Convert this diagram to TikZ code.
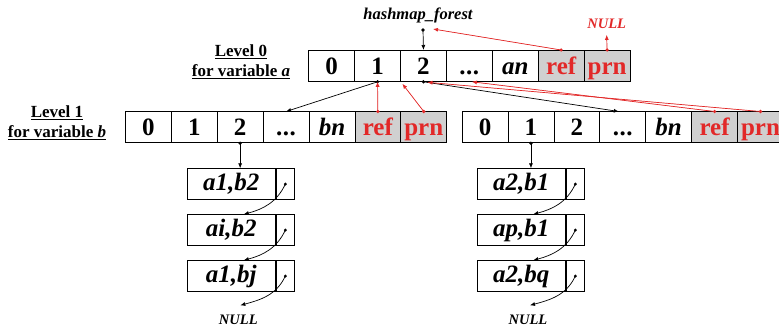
\documentclass[tikz,border=0pt]{standalone}
\usepackage{fontspec}
\setmainfont{Liberation Serif}
\usetikzlibrary{arrows.meta,calc}
\definecolor{ptrred}{RGB}{226,40,40}
\definecolor{cellgray}{RGB}{208,208,208}
\newcommand{\elide}{.\kern0.5pt.\kern0.5pt.}

\tikzset{
  cell/.style={draw, line width=0.8pt, minimum width=45.9pt, minimum height=31pt,
    inner sep=0pt, anchor=north west, text height=20pt, text depth=3pt,
    font=\fontsize{25}{25}\selectfont\bfseries},
  metacell/.style={cell, fill=cellgray, text=ptrred},
  lvllabel/.style={align=center, font=\fontsize{17}{20}\selectfont\bfseries},
  entry/.style={draw, line width=0.8pt, minimum width=88.3pt, minimum height=30.7pt,
    inner sep=0pt, anchor=north west, text height=18pt, text depth=5pt,
    font=\fontsize{25}{25}\selectfont\bfseries\itshape},
  nextptr/.style={draw, line width=0.8pt, minimum width=18.3pt, minimum height=30.7pt,
    inner sep=0pt, anchor=north west},
  nulltext/.style={inner sep=0pt, anchor=base, font=\fontsize{14.5}{14.5}\selectfont\bfseries\itshape},
  arr/.style={line width=0.7pt, -{Latex[length=5pt,width=4pt]}},
  redarr/.style={arr, draw=ptrred, fill=ptrred},
}

\begin{document}
\begin{tikzpicture}[x=1pt,y=-1pt]
\useasboundingbox (0,0) rectangle (779,328);

% ---------- level 0 table ----------
\node[cell] (A0) at (308.3,50) {0};
\node[cell] (A1) at (354.2,50) {1};
\node[cell] (A2) at (400.1,50) {2};
\node[cell] (A3) at (446.0,50) {\elide};
\node[cell] (A4) at (491.9,50) {\textit{an}};
\node[metacell] (A5) at (537.8,50) {ref};
\node[metacell] (A6) at (583.7,50) {prn};

% ---------- level 1 tables ----------
\node[cell] (B0) at (125.0,111.5) {0};
\node[cell] (B1) at (170.9,111.5) {1};
\node[cell] (B2) at (216.8,111.5) {2};
\node[cell] (B3) at (262.7,111.5) {\elide};
\node[cell] (B4) at (308.6,111.5) {\textit{bn}};
\node[metacell] (B5) at (354.5,111.5) {ref};
\node[metacell] (B6) at (400.4,111.5) {prn};

\node[cell] (C0) at (461.7,111.5) {0};
\node[cell] (C1) at (507.6,111.5) {1};
\node[cell] (C2) at (553.5,111.5) {2};
\node[cell] (C3) at (599.4,111.5) {\elide};
\node[cell] (C4) at (645.3,111.5) {\textit{bn}};
\node[metacell] (C5) at (691.2,111.5) {ref};
\node[metacell] (C6) at (737.1,111.5) {prn};

% ---------- labels ----------
\node[lvllabel] (lvl0) at (241,62) {\underline{Level 0}\\\underline{for variable \textit{a}}};
\node[lvllabel] (lvl1) at (57,123) {\underline{Level 1}\\\underline{for variable \textit{b}}};
\node[inner sep=0pt, font=\fontsize{16.5}{16.5}\selectfont\bfseries\itshape] (root) at (418,15) {hashmap\_forest};
\node[nulltext, text=ptrred] (nullT) at (606.7,28.5) {NULL};

% ---------- chained entries ----------
\node[entry] (la) at (186.7,168.3) {a1,b2};
\node[entry] (lb) at (186.7,214.3) {ai,b2};
\node[entry] (lc) at (186.7,260.3) {a1,bj};
\node[entry] (ra) at (476.7,168.3) {a2,b1};
\node[entry] (rb) at (476.7,214.3) {ap,b1};
\node[entry] (rc) at (476.7,260.3) {a2,bq};
\foreach \nm in {la,lb,lc,ra,rb,rc}{
  \node[nextptr] (\nm-p) at (\nm.north east) {};
  \fill (\nm-p.center) circle (1.6pt);
}
\node[nulltext] (nullL) at (238.3,325) {NULL};
\node[nulltext] (nullR) at (528,325) {NULL};

% ---------- root pointer ----------
\coordinate (rootdot) at (423,30);
\fill (rootdot) circle (1.8pt);
\draw[arr] (rootdot) -- (A2.north);

% ---------- parent / ref pointers of level 0 ----------
\fill[ptrred] (A5.north) circle (1.8pt);
\fill[ptrred] (A6.north) circle (1.8pt);
\draw[redarr] (A5.north) -- ($(rootdot)+(10,-1)$);
\draw[redarr] (A6.north) -- ($(nullT.south)+(0,6)$);

% ---------- level 0 -> level 1 ----------
\fill (A1.south) circle (1.8pt);
\fill (A2.south) circle (1.8pt);
\draw[arr] (A1.south) -- (B3.north);
\draw[arr] (A2.south) -- ($(C3.north)+(-4,0)$);

% ---------- level 1 back pointers ----------
\foreach \n in {B5,B6,C5,C6}{\fill[ptrred] (\n.north) circle (1.8pt);}
\draw[redarr] (B5.north) -- (A1.south);
\draw[redarr] (B6.north) -- ($(A1.south east)+(1.5,2)$);
\draw[redarr] (C5.north) -- ($(A3.south)+(2.5,0)$);
\draw[redarr] (C6.north) -- ($(A2.south)+(4,0.5)$);

% ---------- level 1 -> chains ----------
\fill (B2.south) circle (1.8pt);
\fill (C1.south) circle (1.8pt);
\draw[arr] (B2.south) -- (B2.south |- la.north);
\draw[arr] (C1.south) -- (C1.south |- ra.north);

\draw[arr] (la-p.center) to[out=-115,in=15] ($(lb.north)+(12.5,0)$);
\draw[arr] (lb-p.center) to[out=-115,in=15] ($(lc.north)+(12.5,0)$);
\draw[arr] (lc-p.center) to[out=-115,in=15] ($(nullL.north)+(2,-10)$);
\draw[arr] (ra-p.center) to[out=-115,in=15] ($(rb.north)+(12,0)$);
\draw[arr] (rb-p.center) to[out=-115,in=15] ($(rc.north)+(12,0)$);
\draw[arr] (rc-p.center) to[out=-115,in=15] ($(nullR.north)+(2,-10)$);
\end{tikzpicture}
\end{document}
